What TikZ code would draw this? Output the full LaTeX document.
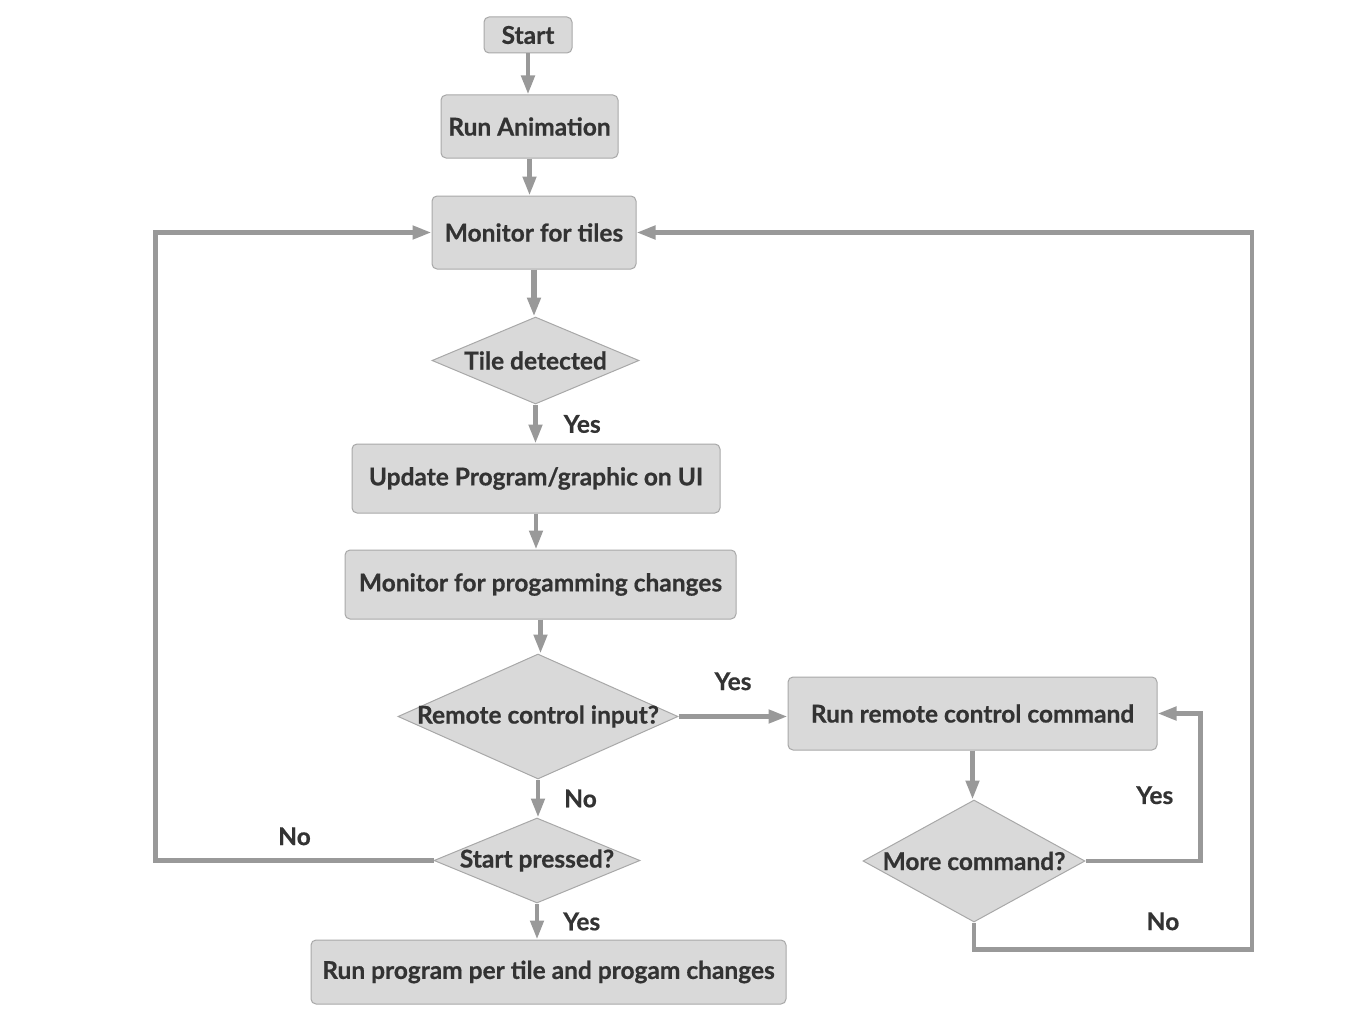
\documentclass[tikz,border=0pt]{standalone}
\usepackage{fontspec}
\setmainfont{Lato}[BoldFeatures={FakeBold=0.6}]
\usetikzlibrary{positioning,shapes.geometric,arrows.meta,calc}
\definecolor{boxfill}{HTML}{D9D9D9}
\definecolor{boxline}{HTML}{A8A8A8}
\definecolor{txt}{HTML}{333333}
\definecolor{wire}{HTML}{999999}
\tikzstyle{box} = [rectangle, draw=boxline, fill=boxfill, line width=1pt, %
   rounded corners=5pt, text centered, inner sep=0pt]
\tikzstyle{dia} = [diamond, draw=boxline, fill=boxfill, line width=1pt, inner sep=0pt]
\tikzstyle{lbl} = [inner sep=0pt]
\tikzstyle{line} = [draw=wire, line width=4.5pt, -{Triangle[length=19pt,width=13pt]}]

\begin{document}
\begin{tikzpicture}[font=\bfseries\fontsize{24.5}{28}\selectfont, text=txt]
      \useasboundingbox (0,0) rectangle (1366pt,-1025pt);

      % MAIN SPINE %%%%%%%%%%%%%%%%%%%%%%%%%%%%%%%%%%%%%%%%%%%%%%%%%%%%
         \node[box, minimum width=88pt, minimum height=36pt] (start) at (528pt,-35pt) {Start};
         \node[box, below=41pt of start, xshift=1.5pt, minimum width=177pt, minimum height=63pt] (anim) {Run Animation};
         \node[box, below=37pt of anim, xshift=4.5pt, minimum width=204pt, minimum height=73pt] (tiles) {Monitor for tiles};
         \node[dia, below=47pt of tiles, xshift=1.5pt, minimum width=207pt, minimum height=87pt, %
            label=center:{Tile detected}] (detect) {};
         \node[box, below=39pt of detect, xshift=0.5pt, minimum width=368pt, minimum height=69pt] (update) {Update Program/graphic on UI};
         \node[box, below=36pt of update, xshift=4.5pt, minimum width=391pt, minimum height=69pt] (monprog) {Monitor for progamming changes};
         \node[dia, below=34pt of monprog, xshift=-2.5pt, minimum width=280pt, minimum height=125pt, %
            label=center:{Remote control input?}] (remote) {};
         \node[dia, below=38pt of remote, xshift=-1pt, minimum width=206pt, minimum height=85pt, %
            label=center:{Start pressed?}] (startp) {};
         \node[box, below=36pt of startp, xshift=11.5pt, minimum width=475pt, minimum height=64pt] (runprog) {Run program per tile and progam changes};

      % REMOTE BRANCH %%%%%%%%%%%%%%%%%%%%%%%%%%%%%%%%%%%%%%%%%%%%%%%%%%
         \node[box, right=109pt of remote, yshift=3pt, minimum width=369pt, minimum height=73pt] (runrem) {Run remote control command};
         \node[dia, below=49pt of runrem, xshift=1.5pt, minimum width=222pt, minimum height=122pt, %
            label=center:{More command?}] (more) {};

         % Draw edges
         % Main spine
         \path [line] (start.south) -- (start.south |- anim.north);
         \path [line] (anim.south) -- (anim.south |- tiles.north);
         \path [line, line width=5.5pt] (tiles.south) -- (tiles.south |- detect.north);
         \path [line] (detect.south) -- node[lbl, right=26pt] (yes1) {Yes} (detect.south |- update.north);
         \path [line] (update.south) -- (update.south |- monprog.north);
         \path [line] (monprog.south) -- (monprog.south |- remote.north);
         \path [line] (remote.south) -- node[lbl, right=24pt] (no1) {No} (remote.south |- startp.north);
         \path [line] (startp.south) -- node[lbl, right=24pt] (yes3) {Yes} (startp.south |- runprog.north);
         % Loops
         \path [line] (startp.west) -- node[lbl, above=13pt] (no2) {No} ++(-278pt,0) |- (tiles.west);
         \path [line] (remote.east) -- node[lbl, above=24pt] (yes2) {Yes} (remote.east -| runrem.west);
         \path [line] (runrem.south) -- (runrem.south |- more.north);
         \path [line] (more.east) -- ++(115pt,0) |- node[lbl, pos=0.223, left=25pt] (yes4) {Yes} (runrem.east);
         \path [line] (more.south) -- ++(0,-27pt) -- node[lbl, pos=0.68, above=17pt] (no3) {No} ++(278pt,0) |- (tiles.east);

      \end{tikzpicture}
\end{document}
